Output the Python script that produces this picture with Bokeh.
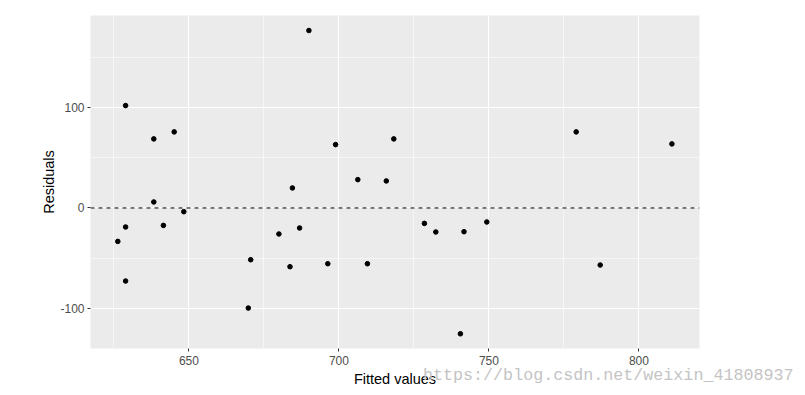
from bokeh.plotting import figure
from bokeh.models import Range1d, FixedTicker, Span, Div
from bokeh.layouts import column
from bokeh.embed import file_html
from bokeh.resources import INLINE

# Fitted values and residuals
fitted = [626.3, 628.9, 628.9, 628.9, 638.3, 638.3, 641.5, 645.1, 648.3,
          669.8, 670.6, 680.0, 684.5, 683.7, 686.9, 690.0, 696.3, 698.9,
          706.3, 709.5, 715.8, 718.3, 728.5, 732.3, 740.5, 741.7, 749.3,
          779.1, 787.1, 811.0]
residuals = [-33.4, 102.3, -19.0, -73.0, 69.0, 6.0, -17.4, 76.0, -3.7,
             -100.0, -51.7, -26.0, 20.0, -58.7, -20.0, 177.3, -55.7, 63.3,
             28.3, -55.7, 27.0, 69.0, -15.4, -24.0, -125.7, -23.7, -14.0,
             76.0, -57.0, 64.0]

x_major = [650, 700, 750, 800]
x_minor = [625, 675, 725, 775]
y_major = [-100, 0, 100]
y_minor = [-150, -50, 50, 150]
y_labels = {-100: "-100", 0: "0", 100: "100"}
watermark = "https://blog.csdn.net/weixin_41808937"

p = figure(width=805, height=395, output_backend="svg", toolbar_location=None,
           x_range=Range1d(617.2, 820.2), y_range=Range1d(-140.4, 192.3),
           min_border_left=90, min_border_top=15, min_border_right=106,
           min_border_bottom=47)

p.background_fill_color = "#EBEBEB"
p.border_fill_color = "white"
p.outline_line_color = None

p.xaxis.ticker = FixedTicker(ticks=x_major, minor_ticks=x_minor)
p.yaxis.ticker = FixedTicker(ticks=y_major, minor_ticks=y_minor)
p.yaxis.major_label_overrides = y_labels

for g in (p.xgrid, p.ygrid):
    g.grid_line_color = "white"
    g.grid_line_width = 1.1
    g.minor_grid_line_color = "white"
    g.minor_grid_line_width = 0.55

for ax in (p.xaxis, p.yaxis):
    ax.axis_line_color = None
    ax.major_tick_line_color = "#333333"
    ax.major_tick_line_width = 1
    ax.major_tick_out = 3
    ax.major_tick_in = 0
    ax.minor_tick_line_color = None
    ax.major_label_text_font = "Liberation Sans"
    ax.major_label_text_font_size = "12px"
    ax.major_label_text_color = "#4D4D4D"
    ax.axis_label_text_font = "Liberation Sans"
    ax.axis_label_text_font_size = "14.5px"
    ax.axis_label_text_font_style = "normal"
    ax.axis_label_text_color = "black"

p.xaxis.axis_label = "Fitted values"
p.yaxis.axis_label = "Residuals"
p.xaxis.major_label_standoff = 3
p.yaxis.major_label_standoff = 2
p.xaxis.axis_label_standoff = 3
p.yaxis.axis_label_standoff = 0

p.add_layout(Span(location=0, dimension="width", line_color="black",
                  line_width=1, line_dash="4 4"))

p.scatter(fitted, residuals, size=4.6, color="black")

wm = Div(text=watermark, width=380, height=18, margin=(-27, 0, 0, 423),
         styles={"font-family": "Liberation Mono", "font-size": "16.7px",
                 "color": "#C4C4C4", "white-space": "nowrap",
                 "line-height": "16.5px"})

layout = column(p, wm, spacing=0)
open("out.html", "w").write(file_html(layout, INLINE))
